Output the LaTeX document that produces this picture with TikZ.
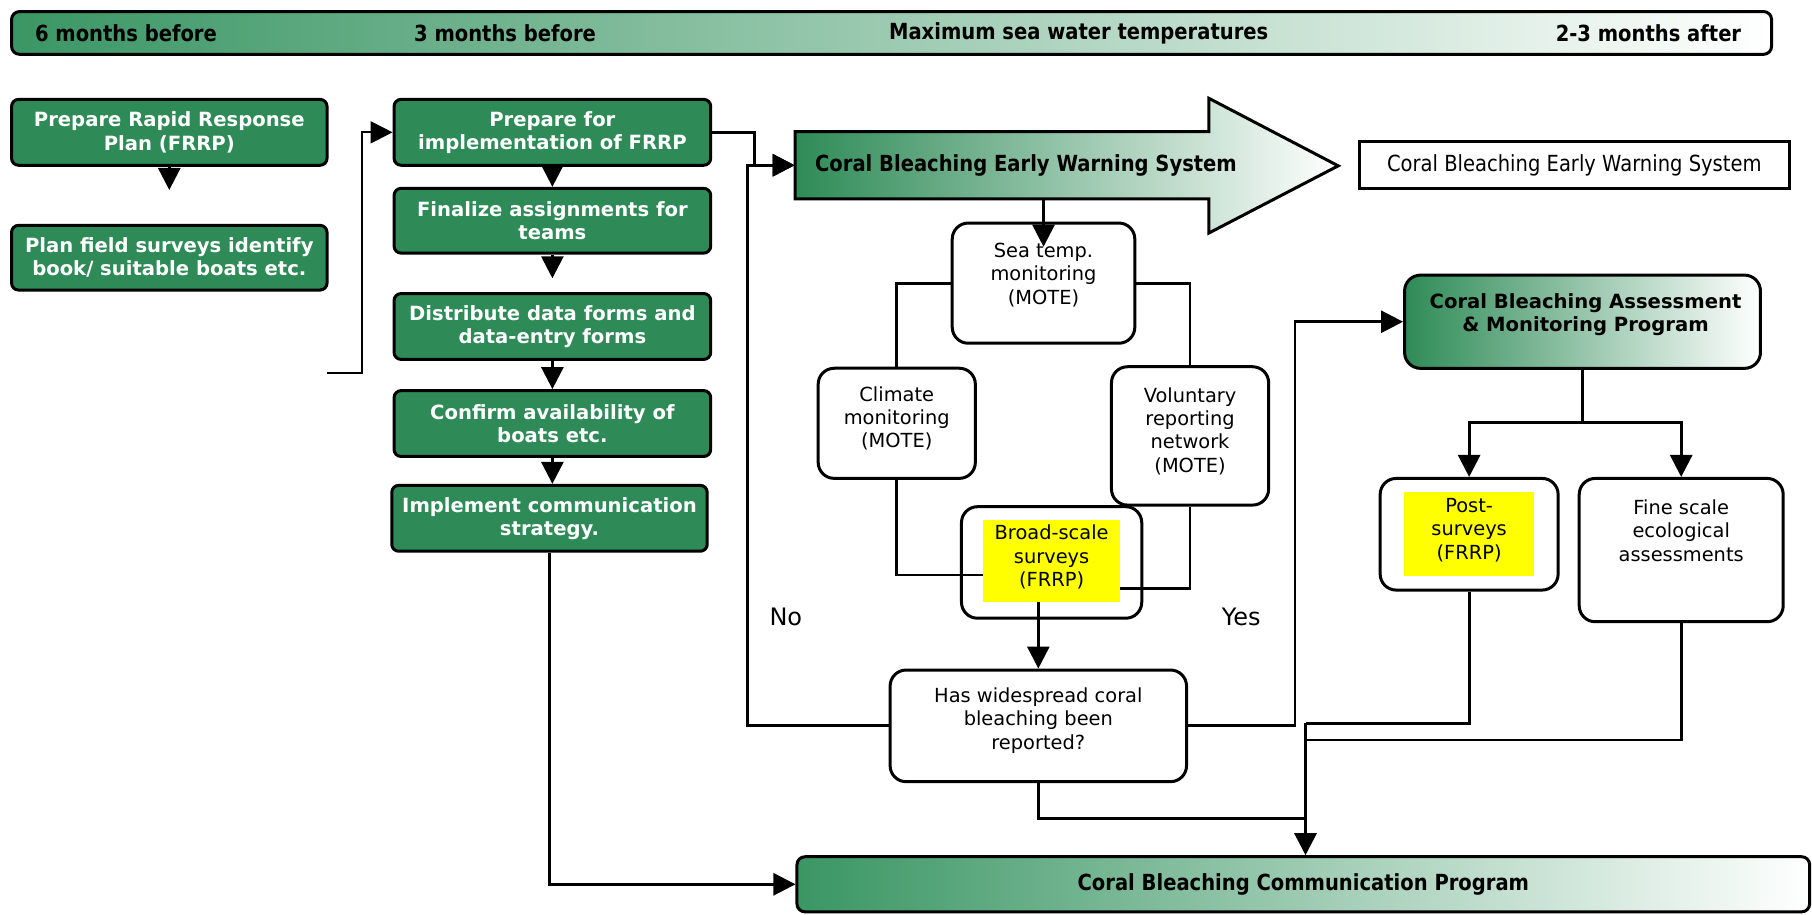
\documentclass[tikz,border=0pt]{standalone}
\usepackage{fontspec}
\setmainfont{DejaVu Sans}
\newfontfamily\cond[FakeStretch=0.88]{DejaVu Sans}
\usetikzlibrary{arrows.meta}
\definecolor{cbgreen}{RGB}{46,139,87}
\definecolor{bargreen}{RGB}{58,150,100}
\definecolor{hlyellow}{RGB}{255,255,0}
\begin{document}
\begin{tikzpicture}[x=0.5778pt,y=-0.5778pt,
  every node/.style={inner sep=0pt},
  sz/.style 2 args={minimum width=#1*0.5778pt, minimum height=#2*0.5778pt},
  gbox/.style={draw=black, line width=1.5pt, fill=cbgreen, rounded corners=3.5pt, text=white,
    font=\fontsize{9.8}{11.6}\selectfont\bfseries, align=center},
  wbox/.style={draw=black, line width=1.5pt, fill=white, rounded corners=8pt},
  ylw/.style={fill=hlyellow},
  wtxt/.style={font=\fontsize{9.7}{11.7}\selectfont, align=center},
  lbl/.style={font=\fontsize{12}{14}\selectfont},
  ln/.style={line width=1.4pt},
  arr/.style={line width=1.4pt, -{Triangle[length=11pt,width=11pt]}},
  condb/.style={font=\fontsize{11.1}{13}\cond\bfseries},
  condr/.style={font=\fontsize{11.1}{13}\cond},
]
\useasboundingbox (0,0) rectangle (1568,791);

% top time bar
\node[draw=black, line width=1.5pt, rounded corners=4pt, left color=bargreen, right color=white, sz={1523}{37}] (bar) at (771.5,28.5) {};
\node[condb, anchor=west] (t6) at (30,28.5) {6 months before};
\node[condb, anchor=west] (t3) at (358,28.5) {3 months before};
\node[condb, anchor=west] (tmax) at (769,28.5) {Maximum sea water temperatures};
\node[condb, anchor=east] (t23) at (1507,28.5) {2-3 months after};

% left column
\node[gbox, sz={273}{57}] (A) at (146.5,114.5) {Prepare Rapid Response\\Plan (FRRP)};
\node[gbox, sz={273}{56}] (B) at (146.5,223) {Plan field surveys identify\\book/ suitable boats etc.};
\coordinate (ab) at (146.5,164.4);
\draw[arr] (A.south) -- (ab);

% middle column
\node[gbox, sz={274}{57}] (C) at (478,114.5) {Prepare for\\implementation of FRRP};
\node[gbox, sz={274}{56}] (D) at (478,191) {Finalize assignments for\\teams};
\node[gbox, sz={274}{57}] (E) at (478,282.5) {Distribute data forms and\\data-entry forms};
\node[gbox, sz={274}{57}] (F) at (478,366.5) {Confirm availability of\\boats etc.};
\node[gbox, sz={273}{57}] (G) at (475.5,448.5) {Implement communication\\strategy.};
\coordinate (de) at (478,240.8);
\draw[arr] (C.south) -- (D.north);
\draw[arr] (D.south) -- (de);
\draw[arr] (E.south) -- (F.north);
\draw[arr] (F.south) -- (F.south |- G.north);

\coordinate (lfree) at (283,323);
\coordinate (lx) at (313,323);
\draw[arr, line width=1pt] (lfree) -- (lx) |- (C.west);

% early warning system arrow
\path[draw=black, line width=1.5pt, left color=cbgreen, right color=white]
  (688,114) -- (1046,114) -- (1046,85) -- (1158,143.5) -- (1046,201.7) -- (1046,172) -- (688,172) -- cycle;
\node[sz={358}{58}] (ews) at (867,143) {};
\node[condb, anchor=west] (ewst) at (705,143) {Coral Bleaching Early Warning System};
\node[draw=black, line width=1.5pt, condr, sz={372.5}{40.4}] (ewsbox) at (1362.3,142.8) {Coral Bleaching Early Warning System};

\coordinate (cx) at (653,143);
\coordinate (nx) at (646.5,143);
\draw[arr] (C.east) -| (cx) -- (ews.west);

% monitoring boxes
\node[wbox, sz={158}{104}] (sea) at (903,245) {};
\node[wtxt] (seat) at (903,238) {Sea temp.\\monitoring\\(MOTE)};
\coordinate (seatip) at (903,213.5);
\draw[arr] (seatip |- ews.south) -- (seatip);

\node[wbox, sz={136}{95.3}] (clim) at (776,366.3) {};
\node[wtxt] (climt) at (776,362) {Climate\\monitoring\\(MOTE)};
\node[wbox, sz={136}{119.7}] (vol) at (1029.8,377.2) {};
\node[wtxt] (volt) at (1029.8,373) {Voluntary\\reporting\\network\\(MOTE)};
\draw[ln] (sea.west) -| (clim.north);
\draw[ln] (sea.east) -| (vol.north);

\node[wbox, sz={156}{96.5}] (broad) at (910,486.7) {};
\node[ylw, sz={119}{70.7}] (byl) at (910,485.4) {};
\node[wtxt] (broadt) at (910,482) {Broad-scale\\surveys\\(FRRP)};
\coordinate (cl) at (850.5,497.6);
\coordinate (vr) at (969.5,509);
\draw[ln] (clim.south) |- (cl);
\draw[ln] (vol.south) |- (vr);

% decision
\node[wbox, sz={256.5}{96.6}] (dec) at (898.5,628.1) {};
\node[wtxt] (dect) at (898.5,623.5) {Has widespread coral\\bleaching been\\reported?};
\draw[arr] (dec.north |- byl.south) -- (dec.north);
\draw[arr] (dec.west) -| (nx) -- (ews.west);
\node[lbl] (no) at (680,533.6) {No};
\node[lbl] (yes) at (1074,533.6) {Yes};

% assessment program
\node[draw=black, line width=1.5pt, rounded corners=8pt, left color=cbgreen, right color=white, sz={308}{80.7}] (cbamp) at (1369.4,278.4) {};
\node[font=\fontsize{9.8}{11.7}\selectfont\bfseries, align=center] (cbampt) at (1372,272.5) {Coral Bleaching Assessment\\\& Monitoring Program};
\coordinate (yx) at (1120.6,400);
\draw[arr] (dec.east) -| (yx) |- (cbamp.west);

\node[wbox, sz={154}{96.6}] (post) at (1271.3,462.3) {};
\node[ylw, sz={113}{73}] (pyl) at (1271.3,462) {};
\node[wtxt] (postt) at (1271.3,458.6) {Post-\\surveys\\(FRRP)};
\node[wbox, sz={176.5}{124}] (fine) at (1454.8,476) {};
\node[wtxt] (finet) at (1454.8,459) {Fine scale\\ecological\\assessments};
\coordinate (cbj) at (1369.4,365.5);
\draw[ln] (cbamp.south) -- (cbj);
\draw[arr] (cbj) -| (post.north);
\draw[arr] (cbj) -| (fine.north);

% communication program
\node[draw=black, line width=1.5pt, rounded corners=4pt, left color=bargreen, right color=white, sz={876.3}{47.7}, condb] (comm) at (1127.8,765.2) {Coral Bleaching Communication Program};
\coordinate (mg) at (1129.7,626);
\coordinate (mgd) at (1129.7,708);
\coordinate (mf) at (1129.7,640.4);
\draw[ln] (dec.south) |- (mgd);
\draw[ln] (post.south) |- (mg);
\draw[ln] (fine.south) |- (mf);
\draw[arr] (mg) -- (mg |- comm.north);
\draw[arr] (G.south) |- (comm.west);
\end{tikzpicture}
\end{document}
